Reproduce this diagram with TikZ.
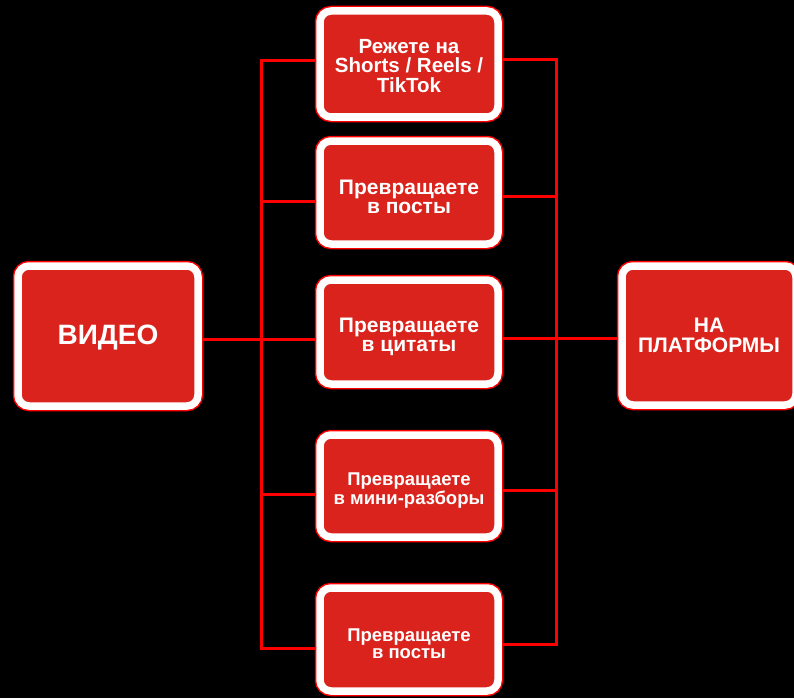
\documentclass[tikz,border=0pt]{standalone}
\usepackage{fontspec}
\setmainfont{Liberation Sans}
\definecolor{boxred}{HTML}{D9231C}
\definecolor{linered}{HTML}{FF0000}
\begin{document}
\begin{tikzpicture}[x=1pt,y=-1pt,
  box/.style={rectangle, rounded corners=11pt, fill=boxred, draw=white, line width=7.5pt,
    preaction={draw=linered, line width=10.5pt, rounded corners=11pt},
    inner sep=0pt, outer sep=5pt},
  txt/.style={text=white, align=center, inner sep=0pt},
  conn/.style={draw=linered, line width=3pt, line join=miter}]
\fill[black] (0,0) rectangle (794,698);
\useasboundingbox (0,0) rectangle (794,698);

\coordinate (L1) at (261,61);
\coordinate (L2) at (261,201);
\coordinate (L3) at (261,339);
\coordinate (L4) at (261,494);
\coordinate (L5) at (261,648);
\coordinate (R1) at (556,60);
\coordinate (R2) at (556,196);
\coordinate (R3) at (556,338);
\coordinate (R4) at (556,490);
\coordinate (R5) at (556,644);

\node[box, minimum width=180, minimum height=140,
  label={[txt, yshift=-2pt, font={\bfseries\fontsize{28}{30}\selectfont}]center:ВИДЕО}]
  (video) at (108,336) {};
\node[box, minimum width=178, minimum height=106,
  label={[txt, yshift=-2pt, font={\bfseries\fontsize{20.5}{19.5}\selectfont}]center:Режете на\\Shorts / Reels /\\TikTok}]
  (b1) at (409,64) {};
\node[box, minimum width=178, minimum height=103,
  label={[txt, yshift=-4.5pt, font={\bfseries\fontsize{21}{19}\selectfont}]center:Превращаете\\в посты}]
  (b2) at (409,192.5) {};
\node[box, minimum width=178, minimum height=104,
  label={[txt, yshift=-5pt, font={\bfseries\fontsize{21}{19}\selectfont}]center:Превращаете\\в цитаты}]
  (b3) at (409,332) {};
\node[box, minimum width=178, minimum height=102,
  label={[txt, yshift=-4.5pt, font={\bfseries\fontsize{18.5}{17}\selectfont}]center:Превращаете\\в мини-разборы}]
  (b4) at (409,486) {};
\node[box, minimum width=178, minimum height=103,
  label={[txt, yshift=-4.5pt, font={\bfseries\fontsize{18.5}{17}\selectfont}]center:Превращаете\\в посты}]
  (b5) at (409,639.5) {};
\node[box, minimum width=174, minimum height=139,
  label={[txt, font={\bfseries\fontsize{21}{19.5}\selectfont}]center:НА\\ПЛАТФОРМЫ}]
  (plat) at (709,335.5) {};

\path[conn] (b1.west |- L1) -- (L1) -- (L5) -- (b5.west |- L5);
\path[conn] (b1.east |- R1) -- (R1) -- (R5) -- (b5.east |- R5);
\path[conn] (L2) -- (b2.west |- L2);
\path[conn] (video.east |- L3) -- (b3.west |- L3);
\path[conn] (L4) -- (b4.west |- L4);
\path[conn] (b2.east |- R2) -- (R2);
\path[conn] (b3.east |- R3) -- (plat.west |- R3);
\path[conn] (b4.east |- R4) -- (R4);
\end{tikzpicture}
\end{document}
